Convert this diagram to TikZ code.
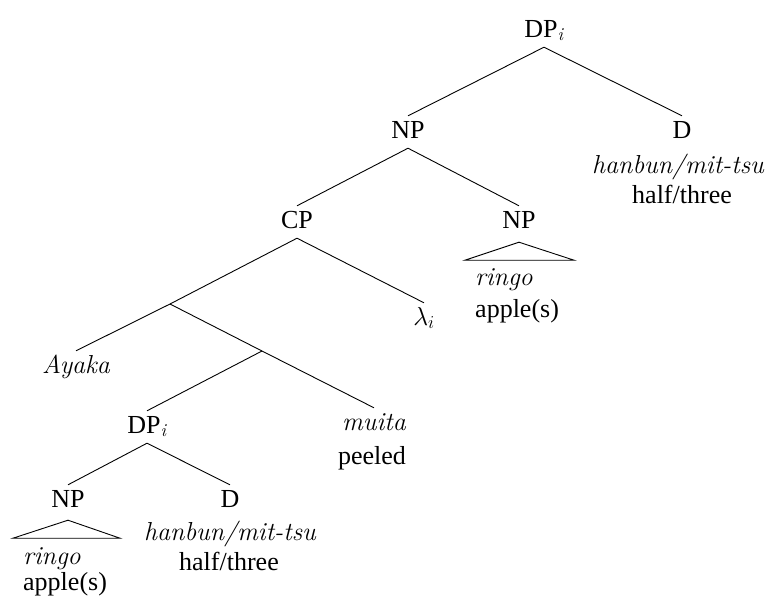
\documentclass[tikz,border=0pt]{standalone}
\usepackage{fix-cm}
\usepackage{fontspec}
\setmainfont{Liberation Serif}
\newfontfamily\lmfam{Latin Modern Roman}
\newcommand\itw[1]{{\lmfam\itshape #1}}
\begin{document}
\begin{tikzpicture}[x=1pt,y=-1pt,
  every node/.style={font=\fontsize{26}{32}\selectfont},
  cat/.style={anchor=base, inner xsep=2pt, inner ysep=5pt, text height=17pt, text depth=5pt},
  gloss/.style={anchor=base, inner sep=0pt},
  glossl/.style={anchor=base west, inner sep=0pt},
  edge/.style={line width=0.9pt}]
\useasboundingbox (0,0) rectangle (765,600);
% upper tree
\node[cat] (dp) at (544,37) {DP\textsubscript{\itw{i}}};
\node[cat] (np) at (408,138) {NP};
\node[cat] (d) at (682,138) {D};
\node[gloss] (dw) at (678,173) {\itw{hanbun/mit-tsu}};
\node[gloss] (dg) at (682,203) {half/three};
\node[cat] (cp) at (297,228) {CP};
\node[cat] (npr) at (519,228) {NP};
\node[glossl] (rw) at (475,285) {\itw{ringo}};
\node[glossl] (rg) at (475,317) {apple(s)};
\node[cat] (lam) at (424,325) {$\lambda_i$};
\coordinate (j1) at (170,304);
\node[cat] (aya) at (76,373) {\itw{Ayaka}};
\coordinate (j2) at (262,351);
\node[cat] (dp2) at (147,433) {DP\textsubscript{\itw{i}}};
\node[cat] (mu) at (374,430) {\itw{muita}};
\node[gloss] (pe) at (372,464) {peeled};
\node[cat] (np2) at (68,507) {NP};
\node[cat] (d2) at (230,507) {D};
\node[gloss] (dw2) at (230,540) {\itw{hanbun/mit-tsu}};
\node[gloss] (dg2) at (229,570) {half/three};
\node[glossl] (rw2) at (23,564) {\itw{ringo}};
\node[glossl] (rg2) at (23,590) {apple(s)};
% edges
\draw[edge] (dp.south) -- (np.north);
\draw[edge] (dp.south) -- (d.north);
\draw[edge] (np.south) -- (cp.north);
\draw[edge] (np.south) -- (npr.north);
\draw[edge] (cp.south) -- (j1);
\draw[edge] (cp.south) -- (lam.north);
\draw[edge] (j1) -- (aya.north);
\draw[edge] (j1) -- (j2);
\draw[edge] (j2) -- (dp2.north);
\draw[edge] (j2) -- (mu.north);
\draw[edge] (dp2.south) -- (np2.north);
\draw[edge] (dp2.south) -- (d2.north);
% triangles
\draw[edge] ([yshift=-4pt]npr.south) -- ++(-54,18) -- ++(109,0) -- cycle;
\draw[edge] ([yshift=-3pt]np2.south) -- ++(-55,18) -- ++(107,0) -- cycle;
\end{tikzpicture}
\end{document}
